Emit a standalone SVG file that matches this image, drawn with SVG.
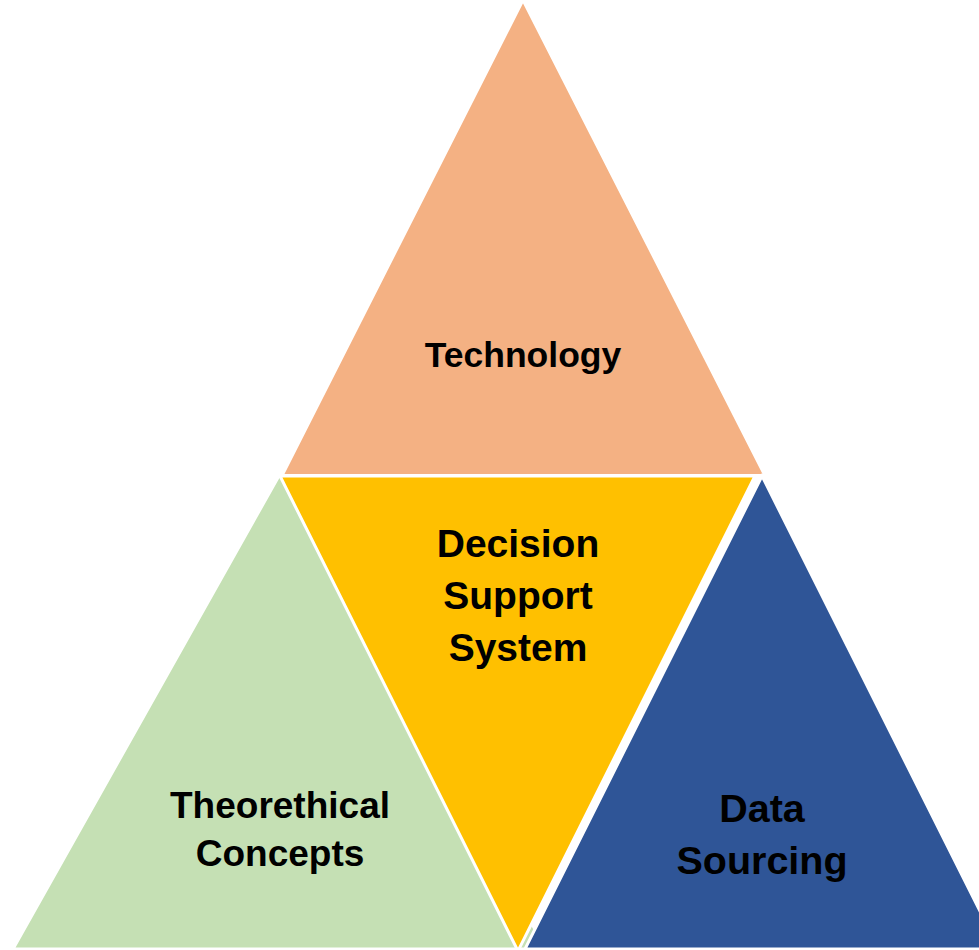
<svg xmlns="http://www.w3.org/2000/svg" width="979" height="950" viewBox="0 0 979 950">
<style>
.tri{stroke:#FFFFFF;stroke-width:3;stroke-linejoin:miter}
.lbl{font-family:"Liberation Sans",Arial,sans-serif;font-weight:bold;fill:#000000;text-anchor:middle}
</style>
<rect width="979" height="950" fill="#FFFFFF"/>
<g id="technology">
<polygon class="tri" points="523,0 765,475.5 282,475.5" fill="#F4B183"/>
<text class="lbl" x="523" y="367" font-size="35.5">Technology</text>
</g>
<g id="theoretical-concepts">
<polygon class="tri" points="280,474 546,949 13,949" fill="#C5E0B4"/>
<text class="lbl" x="280" y="818" font-size="37">Theorethical</text>
<text class="lbl" x="280" y="866" font-size="37">Concepts</text>
</g>
<g id="decision-support-system">
<polygon class="tri" points="280,476 755,476 518,951" fill="#FFC000"/>
<text class="lbl" x="518" y="557" font-size="39">Decision</text>
<text class="lbl" x="518" y="609" font-size="39">Support</text>
<text class="lbl" x="518" y="661" font-size="39">System</text>
</g>
<g id="data-sourcing">
<polygon class="tri" points="762,476 999,949 525,949" fill="#2F5597"/>
<text class="lbl" x="762" y="822" font-size="39.5">Data</text>
<text class="lbl" x="762" y="874" font-size="39.5">Sourcing</text>
</g>
<g id="connectors"></g>
</svg>
